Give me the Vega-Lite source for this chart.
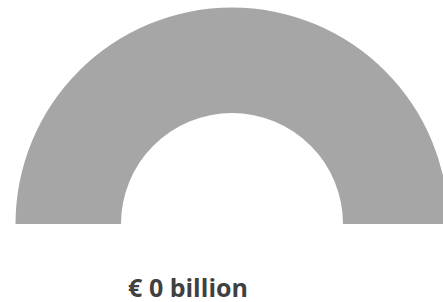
{
  "$schema": "https://vega.github.io/schema/vega-lite/v6.json",
  "width": 443,
  "height": 302,
  "autosize": {"type": "fit", "contains": "padding"},
  "padding": 0,
  "background": "white",
  "config": {"view": {"stroke": null}},
  "layer": [
    {
      "data": {"values": [
        {"segment": "value", "amount": 0},
        {"segment": "rest", "amount": 1}
      ]},
      "mark": {"type": "arc", "x": 232, "y": 224, "radius": 216.5, "radius2": 111},
      "encoding": {
        "theta": {"field": "amount", "type": "quantitative", "stack": true,
          "scale": {"domain": [0, 1], "range": [-1.5708, 1.5708]}},
        "color": {"field": "segment", "type": "nominal", "legend": null,
          "scale": {"domain": ["value", "rest"], "range": ["#4472c4", "#a6a6a6"]}},
        "order": {"field": "segment", "sort": "descending"}
      }
    },
    {
      "data": {"values": [{"label": "€ 0 billion"}]},
      "mark": {"type": "text", "x": 188, "y": 297, "align": "center", "baseline": "alphabetic",
        "font": "Open Sans", "fontWeight": "bold", "fontSize": 25, "color": "#404040"},
      "encoding": {"text": {"field": "label", "type": "nominal"}}
    }
  ]
}
